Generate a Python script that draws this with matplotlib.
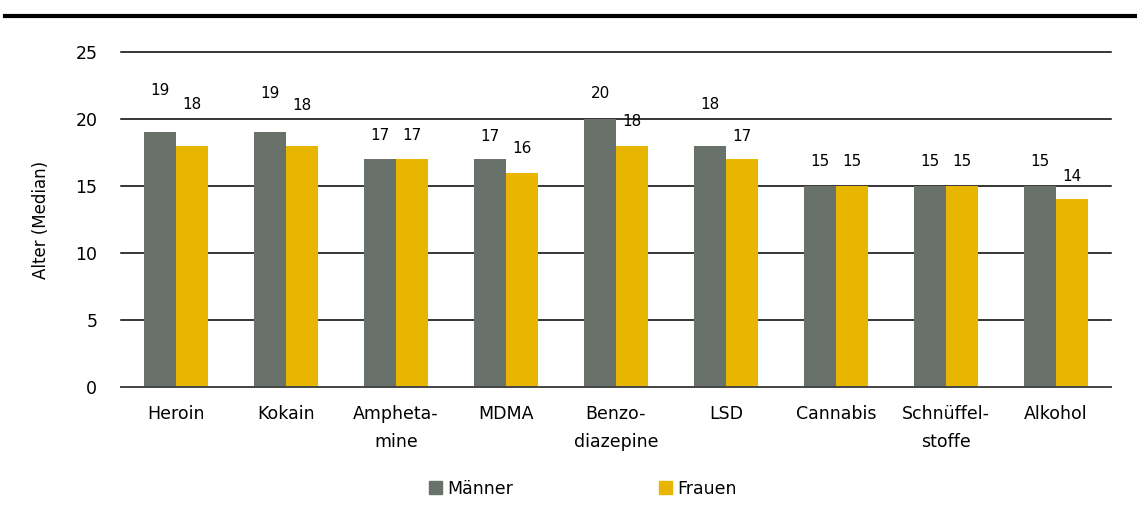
#
# plot.py
#   - Median age at first use, by substance and sex.
#

import numpy as np
import matplotlib
matplotlib.use("Agg")
import matplotlib.pyplot as plt
from matplotlib.lines import Line2D

substances = ["Heroin", "Kokain", "Ampheta-\nmine", "MDMA", "Benzo-\ndiazepine",
              "LSD", "Cannabis", "Schnüffel-\nstoffe", "Alkohol"]
maenner = [19, 19, 17, 17, 20, 18, 15, 15, 15]
frauen = [18, 18, 17, 16, 18, 17, 15, 15, 14]
series_names = ["Männer", "Frauen"]

# how far above the bar top each value label sits (in age units)
lift_m = [3.1, 2.9, 1.8, 1.7, 1.9, 3.1, 1.8, 1.8, 1.8]
lift_f = [3.1, 3.0, 1.8, 1.8, 1.8, 1.7, 1.8, 1.8, 1.7]

GREY = "#68716a"
YELLOW = "#e8b500"


def main():
    plt.rcParams["font.family"] = "DejaVu Sans"

    fig = plt.figure(figsize=(11.37, 5.17), dpi=100)
    ax = fig.add_axes([0.1064, 0.2515, 0.8707, 0.6479])

    x = np.arange(len(substances))
    w = 0.287
    ax.bar(x - w / 2, maenner, w, color=GREY, zorder=3)
    ax.bar(x + w / 2, frauen, w, color=YELLOW, zorder=3)

    for i in range(len(substances)):
        ax.text(x[i] - w / 2, maenner[i] + lift_m[i], str(maenner[i]),
                ha="center", va="center", fontsize=11)
        ax.text(x[i] + w / 2, frauen[i] + lift_f[i], str(frauen[i]),
                ha="center", va="center", fontsize=11)

    ax.set_xlim(-0.5, len(substances) - 0.5)
    ax.set_ylim(0, 25)
    ax.set_yticks(np.arange(0, 26, 5))
    for yv in np.arange(5, 26, 5):
        ax.axhline(yv, color="black", lw=1.1, zorder=1, clip_on=False)
    for s in ["top", "right", "left"]:
        ax.spines[s].set_visible(False)
    ax.spines["bottom"].set_color("#444444")
    ax.spines["bottom"].set_linewidth(1.4)
    ax.spines["bottom"].set_zorder(4)

    ax.set_xticks(x)
    ax.set_xticklabels(substances, fontsize=12.5, linespacing=1.7)
    ax.tick_params(axis="x", length=0, pad=13)
    ax.tick_params(axis="y", length=0, pad=17, labelsize=12.5)
    ax.set_ylabel("Alter (Median)", fontsize=12, labelpad=18)

    handles = [plt.Rectangle((0, 0), 1, 1, color=GREY),
               plt.Rectangle((0, 0), 1, 1, color=YELLOW)]
    fig.legend(handles, series_names, loc="center", bbox_to_anchor=(0.513, 0.055),
               ncol=2, frameon=False, fontsize=12.5, handlelength=0.75, handleheight=0.75,
               handletextpad=0.3, columnspacing=8.4)

    # heavy rule across the top
    fig.add_artist(Line2D([0.004, 1.0], [0.969, 0.969], color="black", lw=3,
                          transform=fig.transFigure))

    fig.savefig("out.png", dpi=100)


if __name__ == "__main__":
    main()
